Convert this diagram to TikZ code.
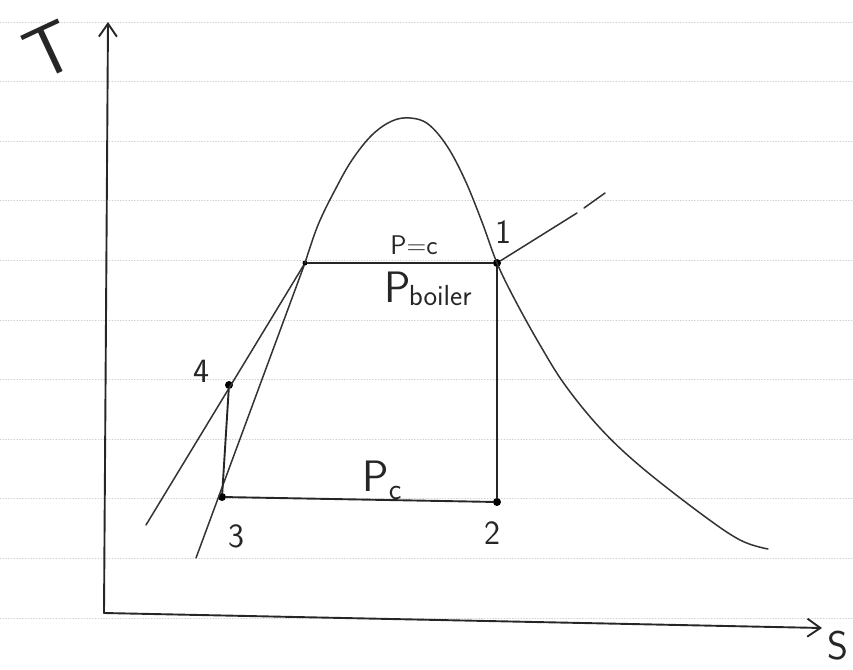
\documentclass[tikz,border=0pt]{standalone}
\usetikzlibrary{arrows.meta}
\begin{document}
\begin{tikzpicture}[x=1pt,y=-1pt, line cap=round, line join=round,
  ink/.style={draw=black!85, line width=1.9pt},
  thin ink/.style={draw=black!80, line width=1.5pt},
  rule/.style={draw=black!18, line width=0.8pt, dotted},
  dot/.style={circle,fill=black,inner sep=0pt,minimum size=8pt},
  lbl/.style={font=\sffamily\fontsize{34}{34}\selectfont, text=black!85},
  axisarrow/.style={-{Straight Barb[length=13pt,width=18pt,line width=1.9pt]}}]
\useasboundingbox (0,0) rectangle (853,669);
% notebook rules
\foreach \k in {0,...,10}{\draw[rule] (0,{22+59.6*\k}) -- (853,{22+59.6*\k});}
% axes
\coordinate (O) at (104,613);
\coordinate (Ttip) at (108,22);
\coordinate (Stip) at (822,628);
\draw[ink,axisarrow] (O) -- (Ttip);
\draw[ink,axisarrow] (O) -- (Stip);
\node[lbl,rotate=25,font=\sffamily\fontsize{72}{72}\selectfont] (Tlab) at (50,50) {T};
\node[lbl,font=\sffamily\fontsize{40}{40}\selectfont] (Slab) at (838,646) {S};
% state points
\node[dot] (s1) at (497,263) {};
\node[dot] (s2) at (497,502) {};
\node[dot] (s3) at (222,497) {};
\node[dot] (s4) at (229,385) {};
\node[dot,minimum size=5pt] (f) at (305,263) {};
\coordinate (a) at (146,525);
\coordinate (b) at (196,558);
\coordinate (c) at (577,213);
\coordinate (d) at (584,208);
\coordinate (e) at (605,193);
% saturation dome
\draw[thin ink] plot[smooth,tension=0.6] coordinates {(305,263) (318,225) (335,190) (352,160) (372,135) (392,121) (410,118) (428,124) (447,146) (465,180) (482,222) (497,263) (515,300) (540,345) (565,385) (600,428) (640,466) (700,513) (740,540) (768,549)};
% lines
\draw[thin ink] (a) -- (f);
\draw[thin ink] (b) -- (f);
\draw[ink] (f) -- (s1);
\draw[ink] (s1) -- (s2);
\draw[ink] (s3) -- (s2);
\draw[ink] (s4) -- (s3);
\draw[thin ink] (s1) -- (c);
\draw[thin ink] (d) -- (e);
% labels
\node[lbl] (l1) at (503,232) {1};
\node[lbl] (l2) at (492,533) {2};
\node[lbl] (l3) at (236,536) {3};
\node[lbl] (l4) at (201,371) {4};
\node[lbl,font=\sffamily\fontsize{27}{27}\selectfont] (pc1) at (414,245) {P=c};
\node[lbl,font=\sffamily\fontsize{44}{44}\selectfont] (pb) at (428,289) {P\hspace{-2pt}\raisebox{-3pt}{\fontsize{29}{29}\selectfont boiler}};
\node[lbl,font=\sffamily\fontsize{44}{44}\selectfont] (pcond) at (382,480) {P\raisebox{-8pt}{\fontsize{30}{30}\selectfont c}};
\end{tikzpicture}
\end{document}
